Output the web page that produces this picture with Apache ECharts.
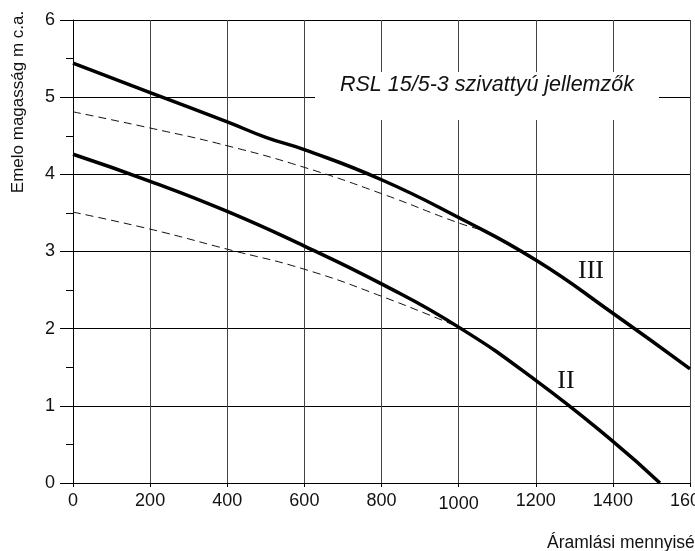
<!DOCTYPE html>
<html>
<head>
<meta charset="utf-8">
<script src="https://cdn.jsdelivr.net/npm/echarts@6/dist/echarts.min.js"></script>
<style>html,body{margin:0;padding:0;background:#fff}#c{width:695px;height:551px}</style>
</head>
<body>
<div id="c"></div>
<script>
var titleText = 'RSL 15/5-3 szivattyú jellemzők';
var yName = 'Emelo magasság m c.a.';
var xName = 'Áramlási mennyiség l/h';
var curveIIIx = [0, 200, 400, 500, 600, 800, 1000, 1200, 1400, 1600];
var curveIIIy = [5.44, 5.06, 4.68, 4.48, 4.32, 3.93, 3.44, 2.89, 2.20, 1.48];
var curveIIx = [0, 200, 400, 600, 800, 1000, 1200, 1400, 1522];
var curveIIy = [4.26, 3.91, 3.52, 3.07, 2.58, 2.02, 1.33, 0.54, 0];
var dashUpperX = [0, 200, 400, 600, 800, 1000, 1060];
var dashUpperY = [4.81, 4.60, 4.37, 4.09, 3.75, 3.37, 3.28];
var dashLowerX = [0, 200, 400, 600, 800, 1000];
var dashLowerY = [3.51, 3.29, 3.03, 2.77, 2.42, 2.02];
var xTicks = [0, 200, 400, 600, 800, 1000, 1200, 1400, 1600];
var yTicks = [0, 1, 2, 3, 4, 5, 6];

function pairs(xs, ys) { return xs.map(function (x, i) { return [x, ys[i]]; }); }

var FONT = '"Liberation Sans", Arial, sans-serif';
var chart = echarts.init(document.getElementById('c'));
chart.setOption({
  animation: false,
  backgroundColor: '#fff',
  title: {
    text: titleText,
    left: 315, top: 72,
    backgroundColor: '#fff',
    padding: [2, 25, 24, 25],
    textStyle: { fontFamily: FONT, fontStyle: 'italic', fontWeight: 'normal', fontSize: 21.5, color: '#111' }
  },
  grid: { left: 73, right: 5, top: 20, bottom: 68, containLabel: false, outerBoundsMode: 'none' },
  xAxis: {
    type: 'value', min: xTicks[0], max: xTicks[xTicks.length - 1], interval: 200,
    axisLine: { lineStyle: { color: '#000', width: 1 } },
    axisTick: { show: true, inside: false, length: 4, lineStyle: { color: '#000' } },
    axisLabel: {
      margin: 9, fontFamily: FONT, fontSize: 18, color: '#111', showMaxLabel: true, hideOverlap: false,
      formatter: function (v) { return v === 1000 ? '{d|' + v + '}' : String(v); },
      rich: { d: { fontFamily: FONT, fontSize: 18, color: '#111', padding: [3, 0, 0, 0] } }
    },
    splitLine: { show: true, lineStyle: { color: '#444', width: 1 } }
  },
  yAxis: {
    type: 'value', min: yTicks[0], max: yTicks[yTicks.length - 1], interval: 1,
    axisLine: { show: true, lineStyle: { color: '#000', width: 1 } },
    axisTick: { show: true, inside: false, length: 13, lineStyle: { color: '#000' } },
    minorTick: { show: true, splitNumber: 2, length: 7, lineStyle: { color: '#000' } },
    axisLabel: { margin: 18, fontFamily: FONT, fontSize: 18, color: '#111' },
    splitLine: { show: true, lineStyle: { color: '#000', width: 1 } }
  },
  graphic: [
    { type: 'text', x: 18, y: 102, rotation: Math.PI / 2, z: 100,
      style: { text: yName, font: '17px ' + FONT, fill: '#111', textAlign: 'center', textVerticalAlign: 'middle' } },
    { type: 'text', x: 547, y: 543, z: 100,
      style: { text: xName, font: '17.5px ' + FONT, fill: '#111', textAlign: 'left', textVerticalAlign: 'middle' } },
    { type: 'text', x: 591, y: 271, z: 100,
      style: { text: 'III', font: '26px "Liberation Serif", "Times New Roman", serif', fill: '#111', textAlign: 'center', textVerticalAlign: 'middle', backgroundColor: '#fff' } },
    { type: 'text', x: 566, y: 381, z: 100,
      style: { text: 'II', font: '26px "Liberation Serif", "Times New Roman", serif', fill: '#111', textAlign: 'center', textVerticalAlign: 'middle' } }
  ],
  series: [
    { type: 'line', data: pairs(dashUpperX, dashUpperY), smooth: true, showSymbol: false, z: 3,
      lineStyle: { color: '#111', width: 1, type: [8, 5] } },
    { type: 'line', data: pairs(dashLowerX, dashLowerY), smooth: true, showSymbol: false, z: 3,
      lineStyle: { color: '#111', width: 1, type: [8, 5] } },
    { type: 'line', data: pairs(curveIIIx, curveIIIy), smooth: true, showSymbol: false, z: 4,
      lineStyle: { color: '#000', width: 3.5 } },
    { type: 'line', data: pairs(curveIIx, curveIIy), smooth: true, showSymbol: false, z: 4,
      lineStyle: { color: '#000', width: 3.5 } }
  ]
});
</script>
</body>
</html>
